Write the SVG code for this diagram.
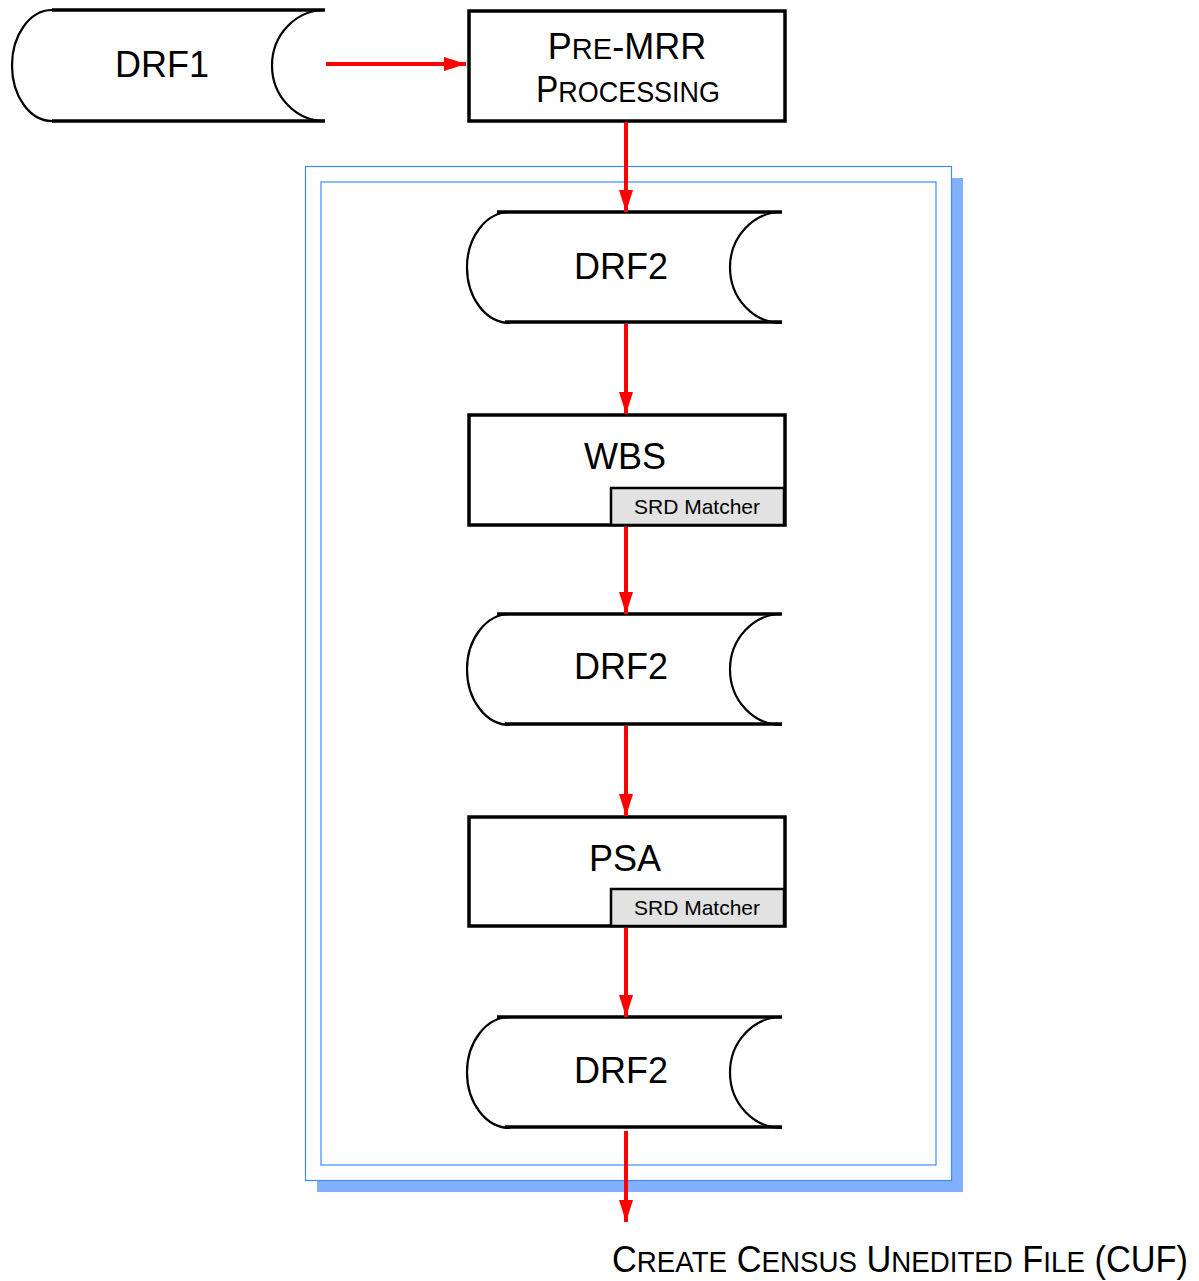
<svg xmlns="http://www.w3.org/2000/svg" width="1199" height="1281" viewBox="0 0 1199 1281">
<style>
.t{font-family:"Liberation Sans",Arial,sans-serif;fill:#000}
.big{font-size:36px}
.sc{font-size:29px}
.arc{fill:none;stroke:#000;stroke-width:2.2}
.edge{stroke:#000;stroke-width:3.5}
.box{fill:#fff;stroke:#000;stroke-width:3.5}
.sub{fill:#e2e2e2;stroke:#000;stroke-width:2.5}
.conn{stroke:#ff0000;stroke-width:4;fill:none}
.cont{fill:#fff;stroke:#3c8cff;stroke-width:1.2}
</style>
<defs>
<marker id="ah" markerUnits="userSpaceOnUse" markerWidth="24" markerHeight="14" refX="22" refY="7" orient="auto">
<path d="M0,0 L22,7 L0,14 Z" fill="#ff0000"/>
</marker>
</defs>
<rect width="1199" height="1281" fill="#fff"/>
<g id="container">
<rect x="317" y="178" width="646" height="1014" fill="#80b0ff"/>
<rect class="cont" x="305.5" y="166.5" width="646" height="1014"/>
<rect class="cont" x="321" y="182" width="615" height="983"/>
</g>
<g id="drf1">
<path d="M52,10 L325,10 A53,55.5 0 0 0 325,121 L52,121 A40,55.5 0 0 1 52,10 Z" fill="#fff" stroke="none"/>
<path class="arc" d="M52,10 A40,55.5 0 0 0 52,121"/>
<path class="arc" d="M325,10 A53,55.5 0 0 0 325,121"/>
<line class="edge" x1="52" y1="10" x2="325" y2="10"/>
<line class="edge" x1="52" y1="121" x2="325" y2="121"/>
<text class="t big" x="162" y="77" text-anchor="middle">DRF1</text>
</g>
<g id="premrr">
<rect class="box" x="469" y="11" width="316" height="110"/>
<text class="t big" x="627" y="59" text-anchor="middle">P<tspan class="sc">RE</tspan>-MRR</text>
<text class="t big" x="536" y="102" textLength="184" lengthAdjust="spacingAndGlyphs">P<tspan class="sc">ROCESSING</tspan></text>
</g>
<g id="drf2a">
<path class="arc" d="M510,212 A43,55.5 0 0 0 510,323"/>
<path class="arc" d="M782,212 A52,55.5 0 0 0 782,323"/>
<line class="edge" x1="497" y1="212" x2="782" y2="212"/>
<line class="edge" x1="505" y1="322" x2="782" y2="322"/>
<text class="t big" x="621" y="279" text-anchor="middle">DRF2</text>
</g>
<g id="wbs">
<rect class="box" x="469" y="415" width="316" height="110"/>
<text class="t big" x="625" y="469" text-anchor="middle">WBS</text>
<rect class="sub" x="611" y="488" width="173" height="37"/>
<text class="t" x="697" y="514" font-size="21" text-anchor="middle">SRD Matcher</text>
</g>
<g id="drf2b">
<path class="arc" d="M510,614 A43,55.5 0 0 0 510,725"/>
<path class="arc" d="M782,614 A52,55.5 0 0 0 782,725"/>
<line class="edge" x1="497" y1="614" x2="782" y2="614"/>
<line class="edge" x1="505" y1="724" x2="782" y2="724"/>
<text class="t big" x="621" y="679" text-anchor="middle">DRF2</text>
</g>
<g id="psa">
<rect class="box" x="469" y="817" width="316" height="109"/>
<text class="t big" x="625" y="871" text-anchor="middle">PSA</text>
<rect class="sub" x="611" y="889" width="173" height="37"/>
<text class="t" x="697" y="915" font-size="21" text-anchor="middle">SRD Matcher</text>
</g>
<g id="drf2c">
<path class="arc" d="M510,1017 A43,55.5 0 0 0 510,1128"/>
<path class="arc" d="M782,1017 A52,55.5 0 0 0 782,1128"/>
<line class="edge" x1="497" y1="1017" x2="782" y2="1017"/>
<line class="edge" x1="505" y1="1127" x2="782" y2="1127"/>
<text class="t big" x="621" y="1083" text-anchor="middle">DRF2</text>
</g>
<g id="cuf">
<text class="t big" x="612" y="1272" textLength="576" lengthAdjust="spacingAndGlyphs">C<tspan class="sc">REATE</tspan> C<tspan class="sc">ENSUS</tspan> U<tspan class="sc">NEDITED</tspan> F<tspan class="sc">ILE</tspan> (CUF)</text>
</g>
<g id="connectors">
<line class="conn" x1="326" y1="64" x2="466" y2="64" marker-end="url(#ah)"/>
<line class="conn" x1="626" y1="122" x2="626" y2="212" marker-end="url(#ah)"/>
<line class="conn" x1="626" y1="324" x2="626" y2="414" marker-end="url(#ah)"/>
<line class="conn" x1="626" y1="527" x2="626" y2="614" marker-end="url(#ah)"/>
<line class="conn" x1="626" y1="726" x2="626" y2="816" marker-end="url(#ah)"/>
<line class="conn" x1="626" y1="928" x2="626" y2="1017" marker-end="url(#ah)"/>
<line class="conn" x1="626" y1="1131" x2="626" y2="1222" marker-end="url(#ah)"/>
</g>
</svg>
